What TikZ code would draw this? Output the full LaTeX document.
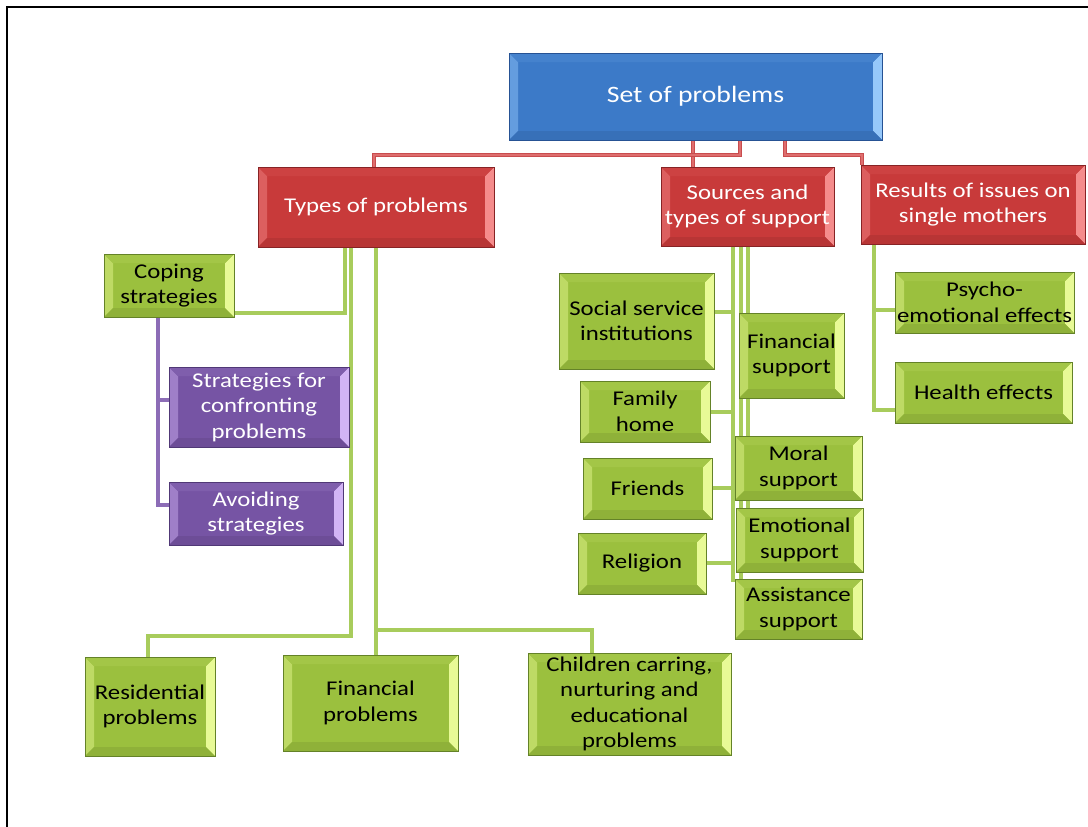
\documentclass[tikz,border=0pt]{standalone}
\usepackage{fontspec}
\setmainfont[FakeStretch=1.18]{Carlito}
\usetikzlibrary{calc}
\pgfdeclarelayer{bg}
\pgfsetlayers{bg,main}
\definecolor{bluefill}{RGB}{60,122,200}
\definecolor{bluedark}{RGB}{38,82,148}
\definecolor{bluelight}{RGB}{150,200,250}
\definecolor{redfill}{RGB}{200,58,58}
\definecolor{reddark}{RGB}{135,35,37}
\definecolor{redlight}{RGB}{245,140,140}
\definecolor{greenfill}{RGB}{155,192,62}
\definecolor{greendark}{RGB}{100,130,40}
\definecolor{greenlight}{RGB}{232,250,150}
\definecolor{purplefill}{RGB}{118,84,164}
\definecolor{purpledark}{RGB}{80,56,118}
\definecolor{purplelight}{RGB}{210,180,245}
\definecolor{redline}{RGB}{200,76,78}
\definecolor{redlinein}{RGB}{222,110,110}
\definecolor{greenline}{RGB}{168,204,92}
\definecolor{purpleline}{RGB}{140,108,182}
\tikzset{
  bx/.style n args={3}{rectangle, fill=#1, draw=#2, line width=1pt, inner sep=0pt, align=center,
    path picture={
      \fill[#1!55!#3] let \p1=(path picture bounding box.south west), \p2=(path picture bounding box.north east) in
        (\x1,\y1) -- (\x1,\y2) -- (\x1+9pt,\y2-9pt) -- (\x1+9pt,\y1+9pt) -- cycle;
      \fill[#3] let \p1=(path picture bounding box.south west), \p2=(path picture bounding box.north east) in
        (\x2,\y1) -- (\x2,\y2) -- (\x2-9pt,\y2-9pt) -- (\x2-9pt,\y1+9pt) -- cycle;
      \fill[#1!90!#3] let \p1=(path picture bounding box.south west), \p2=(path picture bounding box.north east) in
        (\x1,\y2) -- (\x2,\y2) -- (\x2-9pt,\y2-9pt) -- (\x1+9pt,\y2-9pt) -- cycle;
      \fill[#1!92!black] let \p1=(path picture bounding box.south west), \p2=(path picture bounding box.north east) in
        (\x1,\y1) -- (\x2,\y1) -- (\x2-9pt,\y1+9pt) -- (\x1+9pt,\y1+9pt) -- cycle;
    }},
  bluebox/.style={bx={bluefill}{bluedark}{bluelight}, text=white, font=\fontsize{23.5}{28}\selectfont},
  redbox/.style={bx={redfill}{reddark}{redlight}, text=white, font=\fontsize{21}{25}\selectfont},
  gbox/.style={bx={greenfill}{greendark}{greenlight}, text=black, font=\fontsize{21}{25.5}\selectfont},
  pbox/.style={bx={purplefill}{purpledark}{purplelight}, text=white, font=\fontsize{21}{25.5}\selectfont},
  rline/.style={draw=redline, double=redlinein, double distance=1.6pt, line width=1.6pt},
  gline/.style={draw=greenline, line width=4pt},
  pline/.style={draw=purpleline, line width=3.5pt},
  sz/.style 2 args={minimum width=#1pt, minimum height=#2pt}
}
\begin{document}
\begin{tikzpicture}[x=1pt,y=-1pt]
\useasboundingbox (0,0) rectangle (1088,827);
\draw[line width=2pt] (7,827) -- (7,7) -- (1088,7);

% top level
\node[bluebox, sz={373}{87}] (set) at (695.5,96.5) {Set of problems};
\node[redbox, sz={236}{80}] (types) at (376,207) {Types of problems};
\node[redbox, sz={173}{79}] (sources) at (747.5,206.5) {Sources and\\types of support};
\node[redbox, sz={224}{79}] (results) at (973,204.5) {Results of issues on\\single mothers};

% types of problems branch
\node[gbox, sz={130}{63}] (coping) at (169,285.5) {Coping\\strategies};
\node[pbox, sz={180}{80}] (confront) at (259,407) {Strategies for\\confronting\\problems};
\node[pbox, sz={174}{63}] (avoid) at (256,513.5) {Avoiding\\strategies};
\node[gbox, sz={130}{99}] (resid) at (150,706.5) {Residential\\problems};
\node[gbox, sz={175}{96}] (finprob) at (370.5,703) {Financial\\problems};
\node[gbox, sz={203}{102}] (children) at (629.5,704) {Children carring,\\nurturing and\\educational\\problems};

% sources branch
\node[gbox, sz={155}{96}] (social) at (636.5,321) {Social service\\institutions};
\node[gbox, sz={105}{85}] (finsup) at (791.5,355.5) {Financial\\support};
\node[gbox, sz={130}{61}] (family) at (645,411.5) {Family\\home};
\node[gbox, sz={129}{61}] (friends) at (647.5,488.5) {Friends};
\node[gbox, sz={127}{64}] (moral) at (798.5,468) {Moral\\support};
\node[gbox, sz={128}{61}] (religion) at (642,563.5) {Religion};
\node[gbox, sz={127}{64}] (emot) at (799.5,540) {Emotional\\support};
\node[gbox, sz={127}{60}] (assist) at (798.5,609) {Assistance\\support};

% results branch
\node[gbox, sz={179}{61}] (psycho) at (984.5,302.5) {Psycho-\\emotional effects};
\node[gbox, sz={177}{61}] (health) at (983.5,392.5) {Health effects};

\begin{pgfonlayer}{bg}
% red connectors
\draw[rline] (set.south -| 693,0) -- (sources.north -| 693,0);
\draw[rline] (set.south -| 740,0) -- (740,155) -| (types.north -| 374,0);
\draw[rline] (set.south -| 785,0) -- (785,155) -| (results.north -| 862,0);
% types branch
\draw[gline] (types.south -| 345,0) |- (coping.east |- 0,313);
\draw[gline] (types.south -| 351,0) -- (351,636) -| (resid.north -| 148,0);
\draw[gline] (types.south -| 376,0) -- (finprob.north -| 376,0);
\draw[gline] (376,630) -| (children.north -| 592,0);
\draw[pline] (coping.south -| 158,0) |- (avoid.west |- 0,505);
\draw[pline] (158,400) -- (confront.west |- 0,400);
% sources branch
\draw[gline] (sources.south -| 733,0) -- (733,582);
\draw[gline] (sources.south -| 741,0) -- (assist.north -| 741,0);
\draw[gline] (sources.south -| 748,0) -- (emot.north -| 748,0);
\draw[gline] (social.east |- 0,312) -- (733,312);
\draw[gline] (family.east |- 0,412) -- (733,412);
\draw[gline] (friends.east |- 0,488) -- (733,488);
\draw[gline] (religion.east |- 0,563) -- (733,563);
% results branch
\draw[gline] (results.south -| 874,0) |- (health.west |- 0,410);
\draw[gline] (874,310) -- (psycho.west |- 0,310);
\end{pgfonlayer}
\end{tikzpicture}
\end{document}
